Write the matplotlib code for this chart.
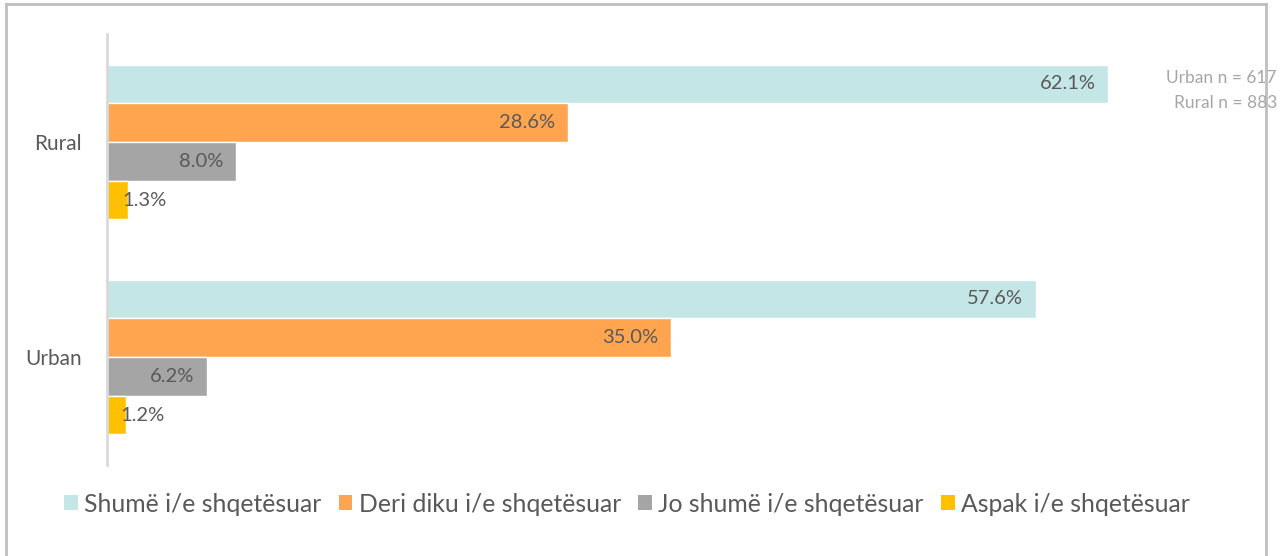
import numpy as np
import matplotlib.pyplot as plt
from matplotlib.lines import Line2D
from matplotlib.patches import Patch

# data
groups = ['Urban', 'Rural']
series = ['Shumë i/e shqetësuar', 'Deri diku i/e shqetësuar',
          'Jo shumë i/e shqetësuar', 'Aspak i/e shqetësuar']
shume = [57.6, 62.1]
deri_diku = [35.0, 28.6]
jo_shume = [6.2, 8.0]
aspak = [1.2, 1.3]
sample_notes = ['Urban n = 617', 'Rural n = 883']

colors = ['#C5E6E7', '#FFA54F', '#A5A5A5', '#FFC000']
txt = '#595959'
plt.rcParams['font.family'] = ['Lato', 'DejaVu Sans']

fig = plt.figure(figsize=(12.87, 5.56), dpi=100)
ax = fig.add_axes([107/1287, 1-465/556, (1181-107)/1287, 431/556])

h = 0.18
y = np.arange(len(groups))
values = [shume, deri_diku, jo_shume, aspak]
for i, (vals, c) in enumerate(zip(values, colors)):
    pos = y + (1.5 - i) * h
    ax.barh(pos, vals, height=h, color=c, edgecolor='white', linewidth=1)
    for p, v in zip(pos, vals):
        label = f'{v:.1f}%'
        if v < 3:
            ax.annotate(label, (v, p), xytext=(-4, 0), textcoords='offset points',
                        ha='left', va='center', fontsize=14.5, color=txt)
        else:
            ax.annotate(label, (v, p), xytext=(-9, 0), textcoords='offset points',
                        ha='right', va='center', fontsize=14.5, color=txt)

ax.set_xlim(0, (1181-107)/16.12)
ax.set_ylim(-0.502, 1.502)
ax.set_yticks(y)
ax.set_yticklabels(groups, fontsize=15, color=txt)
ax.tick_params(axis='y', length=0, pad=18)
ax.set_xticks([])
for s in ['top', 'right', 'bottom']:
    ax.spines[s].set_visible(False)
ax.spines['left'].set_color('#D9D9D9')
ax.spines['left'].set_linewidth(2)

# sample sizes
fig.text(1277/1287, 1-78/556, sample_notes[0], ha='right', va='center',
         fontsize=12.5, color='#A6A6A6')
fig.text(1277/1287, 1-103/556, sample_notes[1], ha='right', va='center',
         fontsize=12.5, color='#A6A6A6')

handles = [Patch(facecolor=c, edgecolor='none') for c in colors]
fig.legend(handles, series, loc='center', bbox_to_anchor=(627/1287, 1-504/556),
           ncol=4, frameon=False, fontsize=17.8, labelcolor=txt,
           handlelength=0.55, handleheight=0.55, handletextpad=0.25, columnspacing=0.7)

# outer frame
fr = '#BFBFBF'
fig.add_artist(Line2D([6/1287, 6/1287], [0, 1-4/556], color=fr, lw=2))
fig.add_artist(Line2D([6/1287, 1266/1287], [1-4/556, 1-4/556], color=fr, lw=2))
fig.add_artist(Line2D([1266/1287, 1266/1287], [0, 1-4/556], color=fr, lw=2))

fig.savefig('out.png', dpi=100)
